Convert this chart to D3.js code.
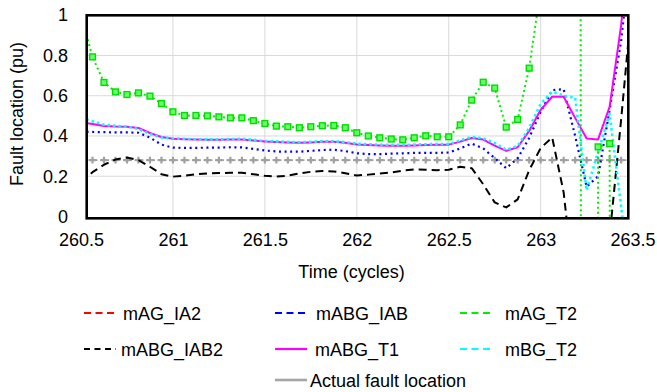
<!DOCTYPE html>
<html>
<head>
<meta charset="utf-8">
<script src="https://cdn.jsdelivr.net/npm/d3@7"></script>
<style>
  body { margin: 0; background: #fff; }
  svg { display: block; font-family: "Liberation Sans", Arial, sans-serif; }
</style>
</head>
<body>
<svg id="chart" width="657" height="392"></svg>
<script>
// sample instants (cycles), 16 per cycle
const time = [260.5, 260.5625, 260.625, 260.6875, 260.75, 260.8125, 260.875, 260.9375,
  261, 261.0625, 261.125, 261.1875, 261.25, 261.3125, 261.375, 261.4375,
  261.5, 261.5625, 261.625, 261.6875, 261.75, 261.8125, 261.875, 261.9375,
  262, 262.0625, 262.125, 262.1875, 262.25, 262.3125, 262.375, 262.4375,
  262.5, 262.5625, 262.625, 262.6875, 262.75, 262.8125, 262.875, 262.9375,
  263, 263.0625, 263.125, 263.1875, 263.25, 263.3125, 263.375, 263.4375, 263.5];

// mAG_IA2 is in the legend only, nothing visible in the plot
const mAG_IA2 = [];

const mABG_IAB = [0.422, 0.42, 0.419, 0.418, 0.418, 0.416, 0.392, 0.357,
  0.342, 0.341, 0.341, 0.342, 0.342, 0.344, 0.343, 0.336,
  0.328, 0.323, 0.322, 0.322, 0.326, 0.33, 0.332, 0.325,
  0.314, 0.31, 0.31, 0.312, 0.314, 0.316, 0.316, 0.316,
  0.318, 0.338, 0.362, 0.338, 0.29, 0.24, 0.289, 0.39,
  0.52, 0.628, 0.632, 0.40, 0.148, 0.2, 0.53, 0.87, 1.4];

const mAG_T2 = [1.0, 0.793, 0.666, 0.619, 0.606, 0.614, 0.598, 0.561,
  0.52, 0.502, 0.502, 0.5, 0.495, 0.49, 0.49, 0.476,
  0.462, 0.449, 0.446, 0.441, 0.446, 0.451, 0.452, 0.441,
  0.416, 0.4, 0.391, 0.385, 0.381, 0.391, 0.401, 0.396,
  0.396, 0.455, 0.578, 0.667, 0.638, 0.444, 0.482, 0.737,
  1.13, 2.5, 6, 25, -25, 0.346, 0.362, -30, -30];

const mABG_IAB2 = [0.17, 0.22, 0.257, 0.283, 0.293, 0.28, 0.247, 0.21,
  0.198, 0.203, 0.21, 0.214, 0.216, 0.217, 0.217, 0.21,
  0.202, 0.198, 0.203, 0.214, 0.222, 0.226, 0.224, 0.215,
  0.204, 0.208, 0.214, 0.218, 0.228, 0.234, 0.232, 0.23,
  0.232, 0.247, 0.24, 0.16, 0.07, 0.045, 0.085, 0.23,
  0.34, 0.393, 0.12, -0.4, -0.8, -0.5, -0.1, 0.48, 1.1];

const mABG_T1 = [0.468, 0.46, 0.45, 0.447, 0.446, 0.44, 0.415, 0.395,
  0.386, 0.384, 0.382, 0.381, 0.381, 0.383, 0.383, 0.378,
  0.372, 0.37, 0.368, 0.366, 0.368, 0.371, 0.371, 0.366,
  0.358, 0.355, 0.353, 0.352, 0.352, 0.353, 0.355, 0.356,
  0.357, 0.372, 0.39, 0.382, 0.352, 0.326, 0.344, 0.425,
  0.53, 0.595, 0.595, 0.49, 0.388, 0.383, 0.545, 0.95, 1.5];

const mBG_T2 = [0.49, 0.473, 0.456, 0.45, 0.447, 0.435, 0.41, 0.393,
  0.388, 0.386, 0.384, 0.383, 0.383, 0.385, 0.386, 0.381,
  0.375, 0.373, 0.371, 0.369, 0.371, 0.374, 0.374, 0.369,
  0.362, 0.359, 0.357, 0.356, 0.356, 0.357, 0.359, 0.36,
  0.36, 0.378, 0.395, 0.388, 0.365, 0.332, 0.35, 0.44,
  0.56, 0.62, 0.6, 0.59, 0.13, 0.32, 0.51, 0.05, -0.4];

const actualLocation = [0.28, 0.28, 0.28, 0.28, 0.28, 0.28, 0.28, 0.28,
  0.28, 0.28, 0.28, 0.28, 0.28, 0.28, 0.28, 0.28,
  0.28, 0.28, 0.28, 0.28, 0.28, 0.28, 0.28, 0.28,
  0.28, 0.28, 0.28, 0.28, 0.28, 0.28, 0.28, 0.28,
  0.28, 0.28, 0.28, 0.28, 0.28, 0.28, 0.28, 0.28,
  0.28, 0.28, 0.28, 0.28, 0.28, 0.28, 0.28, 0.28, 0.28];

const xTicks = [260.5, 261, 261.5, 262, 262.5, 263, 263.5];
const yTicks = [0, 0.2, 0.4, 0.6, 0.8, 1];

const svg = d3.select("#chart");
const fontSize = 18;

// scales (the plot frame sits a bit inside the 260.5 / 263.5 positions)
const x = d3.scaleLinear().domain([260.5, 263.5]).range([81, 632.6]);
const y = d3.scaleLinear().domain([0, 1]).range([216.5, 15.2]);
const frame = { left: 86.7, right: 628.3, top: 15.3, bottom: 218.3 };

svg.append("rect").attr("width", 657).attr("height", 392).attr("fill", "#fff");

svg.append("clipPath").attr("id", "plotClip")
  .append("rect")
  .attr("x", frame.left).attr("y", frame.top)
  .attr("width", frame.right - frame.left).attr("height", frame.bottom - frame.top);

// gridlines
const grid = svg.append("g").attr("clip-path", "url(#plotClip)");
grid.selectAll(".vgrid")
  .data(xTicks.slice(1, -1))
  .enter().append("line")
  .attr("x1", d => x(d)).attr("x2", d => x(d))
  .attr("y1", frame.top).attr("y2", frame.bottom)
  .attr("stroke", "#d9d9d9").attr("stroke-width", 1);
grid.selectAll(".hgrid")
  .data(yTicks.slice(1, -1))
  .enter().append("line")
  .attr("x1", frame.left).attr("x2", frame.right)
  .attr("y1", d => y(d)).attr("y2", d => y(d))
  .attr("stroke", "#d9d9d9").attr("stroke-width", 1);

// axes: labels only, the frame is drawn separately
const xAxis = svg.append("g")
  .attr("transform", "translate(0," + frame.bottom + ")")
  .call(d3.axisBottom(x).tickValues(xTicks).tickSize(0).tickPadding(14.5).tickFormat(d3.format("~f")));
const yAxis = svg.append("g")
  .attr("transform", "translate(" + frame.left + ",0)")
  .call(d3.axisLeft(y).tickValues(yTicks).tickSize(0).tickPadding(18.7).tickFormat(d3.format("~f")));
[xAxis, yAxis].forEach(a => {
  a.select(".domain").remove();
  a.selectAll("text").attr("font-size", fontSize).attr("fill", "#000")
    .attr("font-family", "'Liberation Sans', Arial, sans-serif");
});

// series
const series = [
  { name: "mAG_IA2", values: mAG_IA2, color: "#ff0000", width: 2, dash: "2,3", legendDash: "7,4.5" },
  { name: "mABG_IAB", values: mABG_IAB, color: "#0000ff", width: 2.2, dash: "2,3.6", legendDash: "7,4.5" },
  { name: "mAG_T2", values: mAG_T2, color: "#00ee00", width: 2, dash: "2,3", legendDash: "7,4.5", marker: "square" },
  { name: "mABG_IAB2", values: mABG_IAB2, color: "#000000", width: 2, dash: "8,5", legendDash: "6,4.5" },
  { name: "mABG_T1", values: mABG_T1, color: "#ff00ff", width: 2, dash: null, legendDash: null },
  { name: "mBG_T2", values: mBG_T2, color: "#00ffff", width: 2.6, dash: "2.5,3", legendDash: "7,4.5" },
  { name: "Actual fault location", values: actualLocation, color: "#a0a0a0", width: 1.6, dash: "5,2.5,1.5,2.5", legendDash: null, marker: "cross" }
];

const line = d3.line()
  .x((d, i) => x(time[i]))
  .y(d => y(d));

const plot = svg.append("g").attr("clip-path", "url(#plotClip)");
const drawOrder = ["Actual fault location", "mAG_IA2", "mABG_IAB2", "mABG_IAB", "mABG_T1", "mBG_T2", "mAG_T2"];

drawOrder.forEach(name => {
  const s = series.find(d => d.name === name);
  if (!s.values.length) return;
  plot.append("path")
    .datum(s.values)
    .attr("fill", "none")
    .attr("stroke", s.color)
    .attr("stroke-width", s.width)
    .attr("stroke-dasharray", s.dash)
    .attr("stroke-linejoin", "round")
    .attr("d", line);

  // pair each value with its time, keep the ones inside the plot
  const pts = s.values.map((v, i) => [time[i], v]).filter(d => d[1] >= 0 && d[1] <= 1);

  if (s.marker === "square") {
    plot.selectAll(".sq")
      .data(pts)
      .enter().append("rect")
      .attr("x", d => x(d[0]) - 2.9).attr("y", d => y(d[1]) - 2.9)
      .attr("width", 5.8).attr("height", 5.8)
      .attr("fill", "#66ff66").attr("stroke", "#00dd00").attr("stroke-width", 1.4);
  }
  if (s.marker === "cross") {
    plot.selectAll(".cross")
      .data(pts)
      .enter().append("path")
      .attr("transform", d => "translate(" + x(d[0]) + "," + y(d[1]) + ")")
      .attr("d", d3.symbol().type(d3.symbolCross).size(24))
      .attr("fill", "#a0a0a0");
  }
});

// plot frame
svg.append("rect")
  .attr("x", frame.left).attr("y", frame.top)
  .attr("width", frame.right - frame.left).attr("height", frame.bottom - frame.top)
  .attr("fill", "none").attr("stroke", "#000").attr("stroke-width", 2.6);

// axis titles
svg.append("text")
  .attr("x", 351.5).attr("y", 278)
  .attr("text-anchor", "middle")
  .attr("font-size", fontSize)
  .text("Time (cycles)");
svg.append("text")
  .attr("transform", "translate(23,114) rotate(-90)")
  .attr("text-anchor", "middle")
  .attr("font-size", fontSize)
  .text("Fault location (pu)");

// legend, three columns
const legendPos = [
  { x: 84, y: 313, tx: 123 },
  { x: 275, y: 313, tx: 316 },
  { x: 460, y: 313, tx: 505 },
  { x: 84, y: 349, tx: 121 },
  { x: 275, y: 349, tx: 315 },
  { x: 460, y: 349, tx: 505 },
  { x: 275, y: 380, tx: 310 }
];
const legend = svg.append("g");
series.forEach((s, i) => {
  const p = legendPos[i];
  const isGray = s.name === "Actual fault location";
  legend.append("line")
    .attr("x1", p.x).attr("x2", p.x + 32)
    .attr("y1", p.y).attr("y2", p.y)
    .attr("stroke", isGray ? "#a6a6a6" : s.color)
    .attr("stroke-width", isGray ? 2.6 : 2.2)
    .attr("stroke-dasharray", s.legendDash);
  legend.append("text")
    .attr("x", p.tx).attr("y", p.y + 6.5)
    .attr("font-size", fontSize)
    .text(s.name);
});
</script>
</body>
</html>
